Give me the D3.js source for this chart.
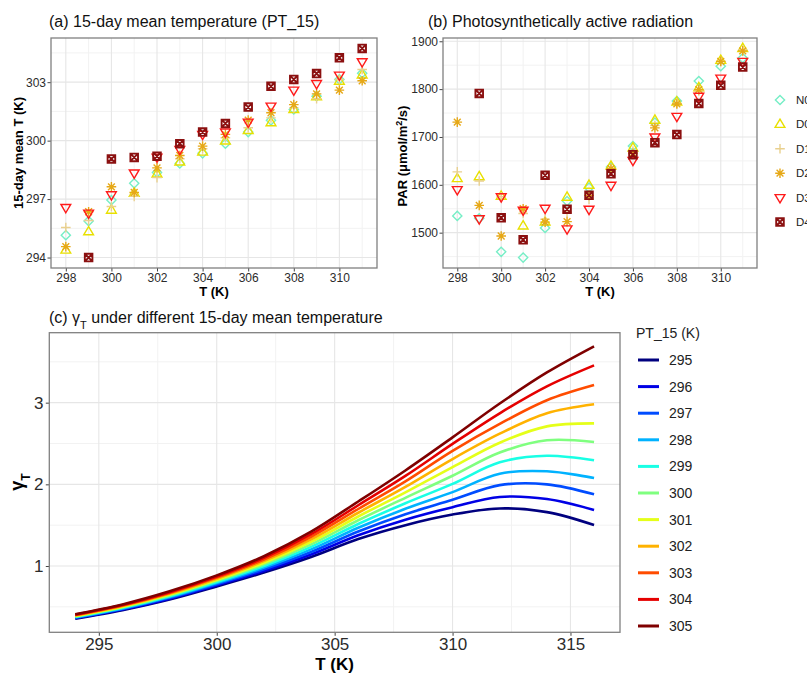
<!DOCTYPE html>
<html>
<head>
<meta charset="utf-8">
<script src="https://cdn.jsdelivr.net/npm/d3@7"></script>
<style>
  body { margin: 0; background: #fff; }
  svg { font-family: "Liberation Sans", Arial, sans-serif; }
</style>
</head>
<body>
<svg id="fig" width="807" height="673"></svg>
<script>
// ---- data ----
const temps = [298, 299, 300, 301, 302, 303, 304, 305, 306, 307, 308, 309, 310, 311];
const groups = ["N0", "D0", "D1", "D2", "D3", "D4"];

// (a) 15-day mean temperature
const pt15_N0 = [295.15, 295.87, 296.95, 297.81, 298.37, 298.83, 299.35, 299.84, 300.44, 301.04, 301.60, 302.28, 303.14, 303.46];
const pt15_D0 = [294.38, 295.32, 296.43, 297.30, 298.29, 298.90, 299.41, 299.98, 300.52, 300.92, 301.60, 302.25, 303.05, 303.37];
const pt15_D1 = [295.54, 295.90, 296.62, 297.14, 298.10, 299.07, 299.58, 300.15, 300.66, 301.17, 301.68, 302.15, 303.14, 303.65];
const pt15_D2 = [294.56, 296.35, 297.63, 297.34, 298.60, 299.24, 299.72, 300.32, 301.05, 301.43, 301.85, 302.40, 302.59, 303.07];
const pt15_D3 = [296.57, 296.28, 297.22, 298.34, 299.15, 299.55, 300.32, 300.44, 300.95, 301.77, 302.59, 302.93, 303.36, 304.05];
const pt15_D4 = [null, 294.00, 299.06, 299.14, 299.20, 299.84, 300.44, 300.88, 301.72, 302.79, 303.14, 303.44, 304.25, 304.73];

// (b) PAR
const par_N0 = [1535, 1530, 1460, 1448, 1510, 1566, 1594, 1637, 1681, 1730, 1775, 1817, 1848, 1865];
const par_D0 = [1613, 1617, 1576, 1514, 1522, 1574, 1599, 1639, 1677, 1735, 1773, 1803, 1860, 1885];
const par_D1 = [1627, 1608, 1575, 1540, 1528, 1542, 1570, 1632, 1670, 1724, 1770, 1796, 1858, 1882];
const par_D2 = [1731, 1557, 1493, 1550, 1522, 1523, 1578, 1634, 1666, 1719, 1769, 1799, 1858, 1880];
const par_D3 = [1590, 1529, 1575, 1547, 1551, 1508, 1549, 1599, 1651, 1700, 1743, 1785, 1823, 1858];
const par_D4 = [null, 1791, 1531, 1485, 1620, 1549, 1578, 1623, 1663, 1688, 1705, 1770, 1808, 1846];

// (c) gamma_T curves
const gammaT = [294, 296, 298, 300, 302, 304, 306, 308, 310, 312, 314, 316];
const ptLevels = [295, 296, 297, 298, 299, 300, 301, 302, 303, 304, 305];
const gamma295 = [0.355, 0.460, 0.590, 0.750, 0.920, 1.110, 1.330, 1.500, 1.630, 1.705, 1.660, 1.502];
const gamma296 = [0.361, 0.467, 0.600, 0.764, 0.940, 1.141, 1.376, 1.567, 1.720, 1.845, 1.820, 1.686];
const gamma297 = [0.366, 0.474, 0.610, 0.777, 0.960, 1.172, 1.422, 1.634, 1.810, 1.990, 2.000, 1.878];
const gamma298 = [0.372, 0.481, 0.620, 0.791, 0.980, 1.203, 1.468, 1.701, 1.905, 2.130, 2.160, 2.078];
const gamma299 = [0.377, 0.488, 0.630, 0.804, 1.000, 1.234, 1.514, 1.768, 2.005, 2.270, 2.350, 2.294];
const gamma300 = [0.383, 0.495, 0.640, 0.818, 1.020, 1.265, 1.560, 1.835, 2.105, 2.390, 2.540, 2.518];
const gamma301 = [0.388, 0.502, 0.650, 0.831, 1.040, 1.296, 1.606, 1.902, 2.210, 2.510, 2.710, 2.747];
const gamma302 = [0.394, 0.509, 0.660, 0.845, 1.060, 1.327, 1.652, 1.969, 2.310, 2.620, 2.870, 2.980];
const gamma303 = [0.399, 0.516, 0.670, 0.858, 1.080, 1.358, 1.698, 2.036, 2.410, 2.740, 3.030, 3.216];
const gamma304 = [0.405, 0.523, 0.680, 0.872, 1.100, 1.389, 1.744, 2.103, 2.495, 2.870, 3.200, 3.457];
const gamma305 = [0.410, 0.530, 0.690, 0.885, 1.120, 1.420, 1.790, 2.170, 2.575, 2.990, 3.370, 3.690];

// tick values
const ticksX_ab = [298, 300, 302, 304, 306, 308, 310];
const ticksY_a = [294, 297, 300, 303];
const ticksY_b = [1500, 1600, 1700, 1800, 1900];
const ticksX_c = [295, 300, 305, 310, 315];
const ticksY_c = [1, 2, 3];

// ---- styles ----
const groupColor = { N0: "#76eec6", D0: "#e8e000", D1: "#e9d08e", D2: "#e6a817", D3: "#ff1a1a", D4: "#8b1010" };
const groupShape = {
  N0: "M0,-4.6L4.6,0L0,4.6L-4.6,0Z",
  D0: "M0,-5.3L4.9,3L-4.9,3Z",
  D1: "M-4.8,0H4.8M0,-4.8V4.8",
  D2: "M-4.8,0H4.8M0,-4.8V4.8M-3.4,-3.4L3.4,3.4M-3.4,3.4L3.4,-3.4",
  D3: "M0,5.3L4.9,-3L-4.9,-3Z",
  D4: "M-3.8,-3.8H3.8V3.8H-3.8ZM-3.8,-3.8L3.8,3.8M-3.8,3.8L3.8,-3.8"
};
const lineColors = ["#00007f", "#0000e5", "#004cff", "#00b2ff", "#19ffe5", "#7fff7f",
                    "#e5ff19", "#ffb200", "#ff4c00", "#e50000", "#7f0000"];

const svg = d3.select("#fig");

function expand(ext) {
  const d = (ext[1] - ext[0]) * 0.05;
  return [ext[0] - d, ext[1] + d];
}

// minor grid positions = midpoints between major ticks
function minors(ticks, domain) {
  const step = ticks[1] - ticks[0];
  const out = [];
  for (let v = ticks[0] - step / 2; v <= domain[1]; v += step) {
    if (v >= domain[0]) out.push(v);
  }
  return out;
}

class Panel {
  constructor(config) {
    this.config = config;
    this.g = svg.append("g");
    this.xscale = d3.scaleLinear().domain(config.xdomain).range([config.left, config.right]);
    this.yscale = d3.scaleLinear().domain(config.ydomain).range([config.bottom, config.top]);
    this.frame();
  }

  frame() {
    let self = this;
    const c = self.config;
    const grid = self.g.append("g");
    const xs = self.xscale, ys = self.yscale;

    grid.selectAll(".xminor").data(minors(c.xticks, xs.domain())).join("line")
      .attr("x1", d => xs(d)).attr("x2", d => xs(d)).attr("y1", c.top).attr("y2", c.bottom)
      .attr("stroke", "#f2f2f2").attr("stroke-width", 1);
    grid.selectAll(".yminor").data(minors(c.yticks, ys.domain())).join("line")
      .attr("y1", d => ys(d)).attr("y2", d => ys(d)).attr("x1", c.left).attr("x2", c.right)
      .attr("stroke", "#f2f2f2").attr("stroke-width", 1);
    grid.selectAll(".xmajor").data(c.xticks).join("line")
      .attr("x1", d => xs(d)).attr("x2", d => xs(d)).attr("y1", c.top).attr("y2", c.bottom)
      .attr("stroke", "#e6e6e6").attr("stroke-width", 1.1);
    grid.selectAll(".ymajor").data(c.yticks).join("line")
      .attr("y1", d => ys(d)).attr("y2", d => ys(d)).attr("x1", c.left).attr("x2", c.right)
      .attr("stroke", "#e6e6e6").attr("stroke-width", 1.1);

    const xaxis = d3.axisBottom(xs).tickValues(c.xticks).tickFormat(d3.format("d"))
      .tickSize(3.5).tickPadding(c.xpad);
    const yaxis = d3.axisLeft(ys).tickValues(c.yticks).tickFormat(d3.format("d"))
      .tickSize(3.5).tickPadding(c.ypad);

    const xg = self.g.append("g").attr("transform", `translate(0, ${c.bottom})`).call(xaxis);
    const yg = self.g.append("g").attr("transform", `translate(${c.left}, 0)`).call(yaxis);
    [xg, yg].forEach(a => {
      a.select(".domain").remove();
      a.selectAll("line").attr("stroke", "#444");
      a.selectAll("text").attr("fill", "#2b2b2b").style("font-size", c.tickFont + "px");
    });

    self.g.append("rect")
      .attr("x", c.left).attr("y", c.top)
      .attr("width", c.right - c.left).attr("height", c.bottom - c.top)
      .attr("fill", "none").attr("stroke", "#808080").attr("stroke-width", 1.3);
  }
}

function scatterPanel(config, seriesList) {
  const all = seriesList.flat().filter(v => v != null);
  config.xdomain = expand(d3.extent(temps));
  config.ydomain = expand(d3.extent(all));
  const p = new Panel(config);

  groups.forEach((grp, i) => {
    const pts = temps.map((t, j) => ({ t: t, v: seriesList[i][j] })).filter(d => d.v != null);
    p.g.append("g").selectAll("path").data(pts).join("path")
      .attr("transform", d => `translate(${p.xscale(d.t)}, ${p.yscale(d.v)})`)
      .attr("d", groupShape[grp])
      .attr("fill", "none")
      .attr("stroke", groupColor[grp])
      .attr("stroke-width", grp === "D4" ? 1.9 : 1.4);
  });
  return p;
}

// ---- panel (a) ----
const pa = scatterPanel({
  left: 51, right: 377, top: 38, bottom: 268,
  xticks: ticksX_ab, yticks: ticksY_a, xpad: 2, ypad: 1.5, tickFont: 12
}, [pt15_N0, pt15_D0, pt15_D1, pt15_D2, pt15_D3, pt15_D4]);

svg.append("text").attr("x", 49).attr("y", 26.5).style("font-size", "16px").attr("fill", "#111")
  .text("(a) 15-day mean temperature (PT_15)");
svg.append("text").attr("x", 214).attr("y", 296).attr("text-anchor", "middle")
  .style("font-size", "13px").style("font-weight", "bold").text("T (K)");
svg.append("text").attr("transform", "translate(23, 153) rotate(-90)").attr("text-anchor", "middle")
  .style("font-size", "13px").style("font-weight", "bold").text("15-day mean T (K)");

// ---- panel (b) ----
const pb = scatterPanel({
  left: 443, right: 757, top: 38, bottom: 268,
  xticks: ticksX_ab, yticks: ticksY_b, xpad: 2, ypad: 1.5, tickFont: 12
}, [par_N0, par_D0, par_D1, par_D2, par_D3, par_D4]);

svg.append("text").attr("x", 428).attr("y", 26.5).style("font-size", "16px").attr("fill", "#111")
  .text("(b) Photosynthetically active radiation");
svg.append("text").attr("x", 600).attr("y", 296).attr("text-anchor", "middle")
  .style("font-size", "13px").style("font-weight", "bold").text("T (K)");
const parLab = svg.append("text").attr("transform", "translate(407, 156) rotate(-90)")
  .attr("text-anchor", "middle").style("font-size", "13px").style("font-weight", "bold");
parLab.append("tspan").text("PAR (\u03bcmol/m");
parLab.append("tspan").attr("baseline-shift", "super").style("font-size", "9px").text("2");
parLab.append("tspan").text("/s)");

// legend for (a)/(b)
const legB = svg.append("g");
groups.forEach((grp, i) => {
  const y = 100 + i * 24.4;
  legB.append("path").attr("transform", `translate(780, ${y})`).attr("d", groupShape[grp])
    .attr("fill", "none").attr("stroke", groupColor[grp]).attr("stroke-width", grp === "D4" ? 1.9 : 1.4);
  legB.append("text").attr("x", 796).attr("y", y).attr("dy", "0.35em")
    .style("font-size", "11.5px").attr("fill", "#222").text(grp);
});

// ---- panel (c) ----
const gammaSeries = [gamma295, gamma296, gamma297, gamma298, gamma299, gamma300,
                     gamma301, gamma302, gamma303, gamma304, gamma305];
const pc = new Panel({
  left: 49.3, right: 620, top: 332.7, bottom: 632.3,
  xdomain: expand(d3.extent(gammaT)),
  ydomain: expand(d3.extent(gammaSeries.flat())),
  xticks: ticksX_c, yticks: ticksY_c, xpad: 2.2, ypad: 2.3, tickFont: 17
});

const line = d3.line()
  .x((d, i) => pc.xscale(gammaT[i]))
  .y(d => pc.yscale(d))
  .curve(d3.curveCatmullRom.alpha(0.5));

pc.g.append("g").selectAll("path").data(gammaSeries).join("path")
  .attr("d", line)
  .attr("fill", "none")
  .attr("stroke", (d, i) => lineColors[i])
  .attr("stroke-width", 2.6);

const ctitle = svg.append("text").attr("x", 49).attr("y", 322.5).style("font-size", "16px").attr("fill", "#111");
ctitle.append("tspan").text("(c) \u03b3");
ctitle.append("tspan").attr("baseline-shift", "sub").style("font-size", "11px").text("T");
ctitle.append("tspan").text(" under different 15-day mean temperature");

svg.append("text").attr("x", 334.5).attr("y", 670).attr("text-anchor", "middle")
  .style("font-size", "17px").style("font-weight", "bold").text("T (K)");
const gLab = svg.append("text").attr("transform", "translate(23, 482) rotate(-90)")
  .attr("text-anchor", "middle").style("font-size", "18px").style("font-weight", "bold");
gLab.append("tspan").text("\u03b3");
gLab.append("tspan").attr("baseline-shift", "sub").style("font-size", "12px").text("T");

// legend for (c)
const legC = svg.append("g");
legC.append("text").attr("x", 636).attr("y", 338).style("font-size", "14px").attr("fill", "#222")
  .text("PT_15 (K)");
ptLevels.forEach((lv, i) => {
  const y = 360 + i * 26.6;
  legC.append("line").attr("x1", 638).attr("x2", 659).attr("y1", y).attr("y2", y)
    .attr("stroke", lineColors[i]).attr("stroke-width", 3);
  legC.append("text").attr("x", 669).attr("y", y).attr("dy", "0.35em")
    .style("font-size", "14px").attr("fill", "#222").text(lv);
});
</script>
</body>
</html>
